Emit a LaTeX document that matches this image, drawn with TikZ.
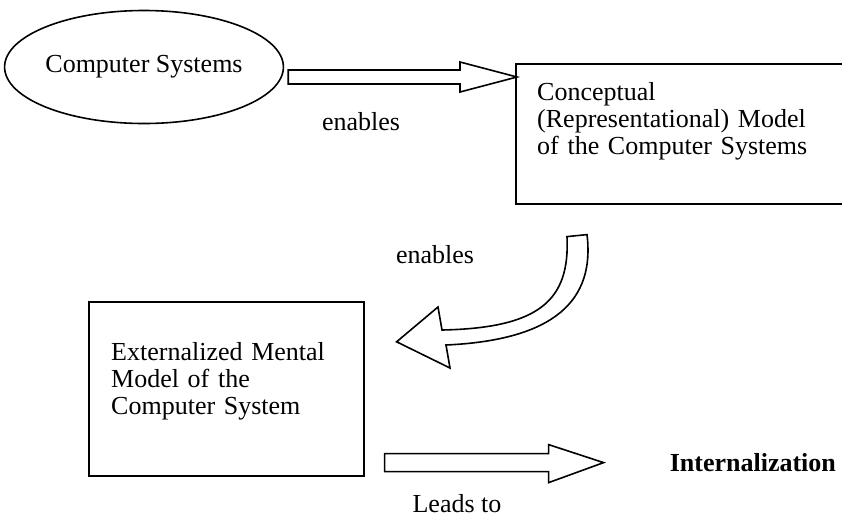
\documentclass[tikz,border=0pt]{standalone}
\usepackage{fontspec}
\setmainfont{Liberation Serif}
\usetikzlibrary{calc,shapes.geometric}
\begin{document}
\begin{tikzpicture}[x=1pt,y=-1pt,
  every node/.style={font=\fontsize{26}{27}\selectfont, inner sep=0pt},
  outline/.style={draw=black, line width=1.6pt},
  blockarrow/.style={draw=black, line width=1.6pt, fill=white, line join=miter},
  boxtext/.style={anchor=base west, text width=#1, align=left},
  tag/.style={anchor=base}]
% canvas
\clip (0,0) rectangle (842,523);
\fill[white] (0,0) rectangle (842,523);

% the system itself
\node[outline, ellipse, minimum width=278pt, minimum height=113pt] (sys) at (144,67) {Computer Systems};

% conceptual model box (runs off the right edge)
\node[outline, minimum width=360pt, minimum height=140pt, anchor=north west] (cm) at (515,63) {};
\node[boxtext=300pt] (cmtext) at ($(cm.north west)+(22,37)$)
  {Conceptual\\(Representational) Model\\of the Computer Systems};

% externalized mental model box
\node[outline, minimum width=275pt, minimum height=174pt, anchor=north west] (em) at (88,301) {};
\node[boxtext=240pt] (emtext) at ($(em.north west)+(23,59)$)
  {Externalized Mental\\Model of the\\Computer System};

% block arrow: system -> conceptual model
\coordinate (a1s) at ($(sys.east)+(4,10)$);
\coordinate (a1e) at ($(cm.north west)+(2,14)$);
\draw[blockarrow] ($(a1s)+(0,-7)$) -- ($(a1e)+(-57,-7)$) -- ($(a1e)+(-57,-15)$)
  -- (a1e) -- ($(a1e)+(-57,15)$) -- ($(a1e)+(-57,7)$) -- ($(a1s)+(0,7)$) -- cycle;

% curved block arrow: conceptual model -> externalized model
\coordinate (c2s) at ($(cm.south west)+(62,30)$);
\coordinate (c2e) at ($(em.east)+(32,-47)$);
\draw[blockarrow] ($(c2s)+(-10,2)$) .. controls (570,300) and (540,328) .. (442,330)
  -- (438,307) -- (c2e) -- (450,368) -- (446,345)
  .. controls (555,340) and (595,300) .. ($(c2s)+(10,0)$) -- cycle;

% block arrow: externalized model -> internalization
\coordinate (a3s) at ($(em.south east)+(20,-14)$);
\coordinate (a3e) at ($(a3s)+(219,0)$);
\draw[blockarrow] ($(a3s)+(0,-9)$) -- ($(a3e)+(-55,-9)$) -- ($(a3e)+(-55,-18)$)
  -- (a3e) -- ($(a3e)+(-55,20)$) -- ($(a3e)+(-55,9)$) -- ($(a3s)+(0,9)$) -- cycle;

% labels
\node[tag] (l1) at (361,130) {enables};
\node[tag] (l2) at (435,263) {enables};
\node[tag] (l3) at (457,512) {Leads to};
\node[anchor=base west, font=\fontsize{26}{27}\selectfont\bfseries] (int) at ($(a3e)+(66,9)$) {Internalization};
\end{tikzpicture}
\end{document}
